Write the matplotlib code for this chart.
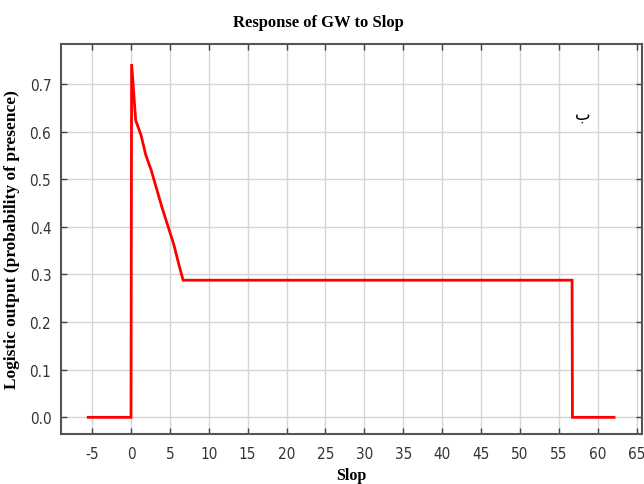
import numpy as np
import matplotlib.pyplot as plt

# response curve
slope = [-5.5, 0.0, 0.0, 0.08, 0.6, 1.3, 1.9, 2.6, 4.0, 5.5, 6.2, 6.7, 56.7, 56.75, 62.1]
prob = [0.0, 0.0, 0.0, 0.742, 0.624, 0.592, 0.551, 0.519, 0.44, 0.363, 0.318, 0.288, 0.288, 0.0, 0.0]

x_ticks = list(range(-5, 70, 5))
y_ticks = [0.0, 0.1, 0.2, 0.3, 0.4, 0.5, 0.6, 0.7]

plt.rcParams['axes.unicode_minus'] = False
serif = ['Liberation Serif', 'DejaVu Serif']

fig = plt.figure(figsize=(6.44, 4.85), dpi=100)
ax = fig.add_axes([0.0947, 0.1031, 0.9023, 0.8041])

ax.plot(slope, prob, color='#ff0000', lw=2, solid_joinstyle='miter', zorder=3)

ax.set_xlim(-9, 65.7)
ax.set_ylim(-0.035, 0.784)
ax.set_xticks(x_ticks)
ax.set_yticks(y_ticks)
ax.set_yticklabels(['%.1f' % v for v in y_ticks])
ax.grid(True, color='#d4d4d4', lw=1)
ax.set_axisbelow(True)

ax.tick_params(direction='in', length=4, width=1, color='#444444',
               top=True, right=True, labelsize=11)
ax.tick_params(axis='x', pad=9)
ax.tick_params(axis='y', pad=7)
for lab in ax.get_xticklabels() + ax.get_yticklabels():
    lab.set_family(['DejaVu Sans'])
    lab.set_stretch('condensed')
    lab.set_color('#333333')

for sp in ax.spines.values():
    sp.set_color('#555555')
    sp.set_linewidth(1.5)

fig.text(0.4946, 0.953, 'Response of GW to Slop', family=serif,
         fontweight='bold', fontsize=12, ha='center', va='center')
ax.set_xlabel('Slop', family=serif, fontweight='bold', fontsize=11.5, labelpad=4)
ax.set_ylabel('Logistic output (probability of presence)', family=serif,
              fontweight='bold', fontsize=12.5, labelpad=7)

ax.text(58.1, 0.638, 'ب', family=['DejaVu Sans'], fontsize=12,
        ha='center', va='center')

plt.savefig('out.png', dpi=100)
plt.close()
